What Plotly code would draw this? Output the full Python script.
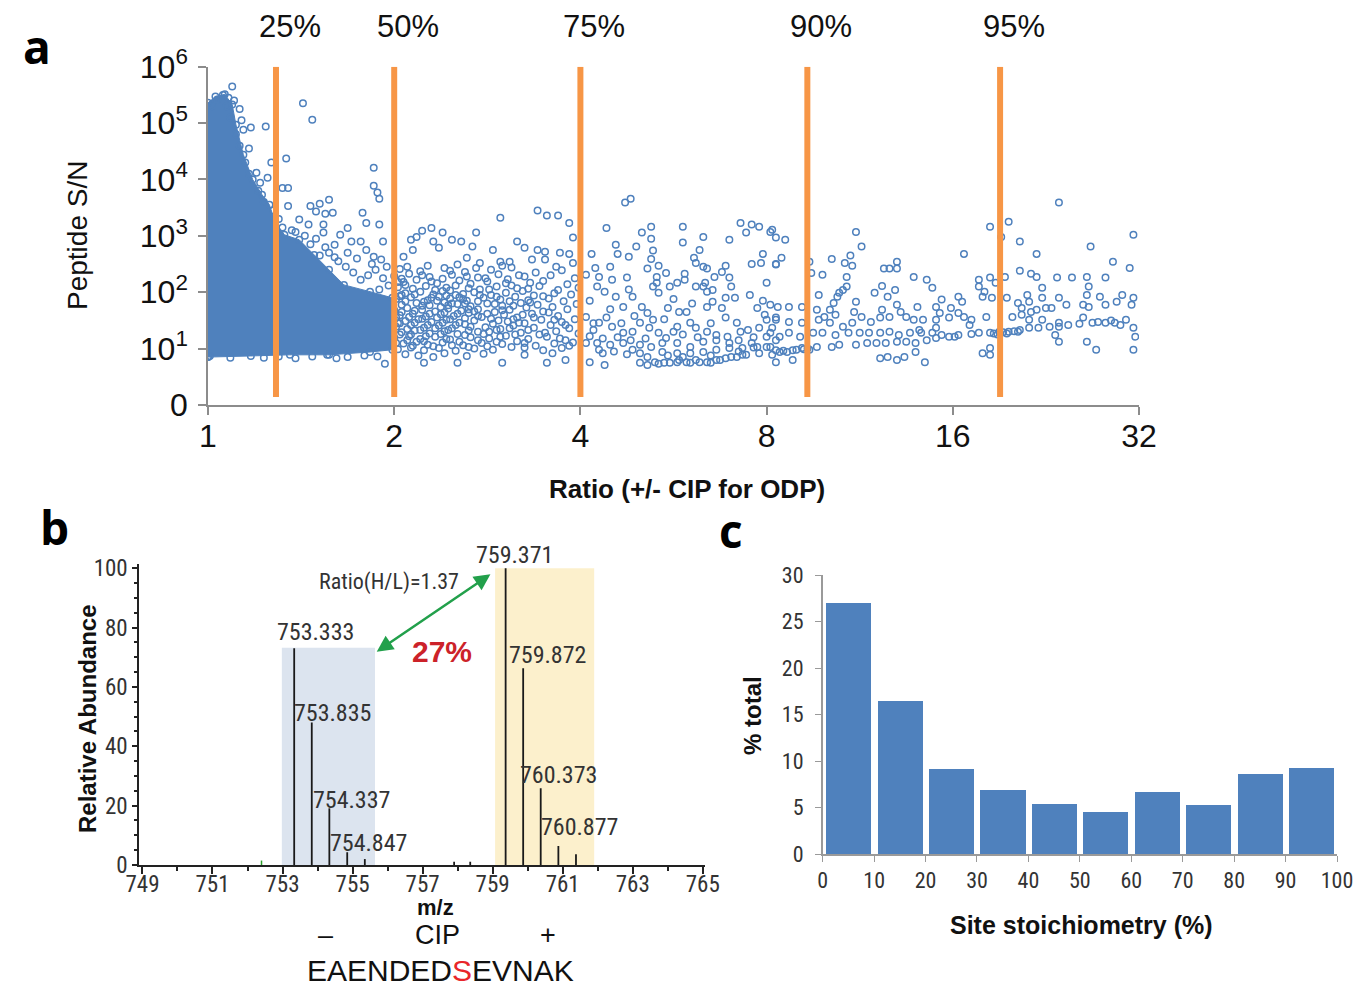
import numpy as np
import plotly.graph_objects as go

# page is photographed with the browser's default 8px body margin
OFF = 8
W, H = 1370 - OFF, 987 - OFF

# ===================== Panel a : peptide S/N vs ratio =====================
# values stored as (log2 ratio, log10 S/N)
dense_region = [
    (0.00, 0.85), (0.00, 5.36), (0.04, 5.47), (0.09, 5.51), (0.13, 5.33), (0.15, 4.97),
    (0.19, 4.44), (0.24, 4.00), (0.29, 3.73), (0.33, 3.55), (0.36, 3.25), (0.41, 3.02),
    (0.49, 2.93), (0.57, 2.66), (0.65, 2.40), (0.73, 2.13), (0.87, 2.01), (0.99, 1.90),
    (0.99, 0.98), (0.87, 0.94), (0.65, 0.89), (0.44, 0.89), (0.23, 0.87), (0.00, 0.85),
]

pts_1_2 = [
    (0.13, 5.65), (0.31, 4.94), (0.23, 4.92), (0.19, 4.88), (0.51, 5.35), (0.56, 5.06),
    (0.42, 4.37), (0.34, 4.30), (0.22, 4.55), (0.26, 4.12), (0.32, 4.03), (0.28, 3.94),
    (0.40, 3.85), (0.43, 3.85), (0.55, 3.53), (0.60, 3.57), (0.65, 3.64), (0.67, 3.41),
    (0.63, 3.39), (0.58, 3.43), (0.43, 3.53), (0.83, 3.41), (0.85, 3.23), (0.89, 4.21),
    (0.89, 3.89), (0.91, 3.77), (0.92, 3.66), (0.92, 3.20), (0.94, 2.90), (0.49, 3.29),
    (0.54, 3.20), (0.47, 3.07), (0.62, 3.20), (0.62, 3.06), (0.75, 3.14), (0.71, 3.02),
    (0.77, 2.90), (0.82, 2.90), (0.85, 2.75), (0.89, 2.63), (0.68, 2.84), (0.65, 2.70),
    (0.93, 2.58), (0.96, 2.45), (0.69, 0.83), (0.95, 0.73), (0.75, 0.85), (0.64, 0.89),
    (0.01, 0.87), (0.70, 2.55), (0.74, 2.45), (0.78, 2.35), (0.82, 2.22), (0.86, 2.30),
    (0.90, 2.40), (0.94, 2.25), (0.97, 2.12), (0.80, 2.60), (0.75, 2.70), (0.88, 2.50),
    (0.92, 2.05), (0.60, 2.65), (0.63, 2.80), (0.55, 2.85), (0.52, 3.00), (0.58, 2.95),
    (0.68, 2.62), (0.45, 3.10), (0.40, 3.15), (0.38, 3.30), (0.35, 3.45), (0.30, 3.60),
    (0.27, 3.80), (0.22, 4.10), (0.20, 4.30), (0.17, 4.60), (0.15, 4.80), (0.12, 5.10),
    (0.10, 5.30), (0.02, 5.30), (0.05, 5.42), (0.08, 5.50), (0.11, 5.45), (0.14, 5.40),
    (0.17, 5.25), (0.18, 5.05), (0.30, 0.84), (0.47, 0.83), (0.56, 0.86), (0.84, 0.88),
    (0.91, 0.86), (0.12, 0.84), (0.38, 0.86),
]

pts_2_4 = [
    (1.57, 3.32), (1.77, 3.45), (1.82, 3.36), (1.88, 3.36), (1.94, 3.23), (1.96, 2.97),
    (1.94, 2.68), (1.44, 3.06), (1.26, 3.06), (1.20, 3.14), (1.15, 3.09), (1.09, 2.93),
    (1.12, 2.98), (1.36, 2.90), (1.42, 2.81), (1.53, 2.75), (1.66, 2.90), (1.70, 2.79),
    (1.77, 2.75), (1.81, 2.72), (1.89, 2.70), (1.21, 2.90), (1.31, 2.93), (1.24, 2.79),
    (1.05, 2.63), (1.10, 2.75), (1.62, 2.54), (1.57, 2.54), (1.46, 2.52), (1.39, 2.61),
    (1.34, 2.49), (1.74, 2.58), (1.81, 2.58), (1.87, 2.45), (1.96, 2.52),
    (1.16, 0.75), (1.34, 0.75), (1.58, 0.75), (1.82, 0.75), (1.92, 0.80), (1.21, 0.85),
    (1.03, 2.41), (1.14, 2.37), (1.27, 2.43), (1.38, 2.36), (1.52, 2.40), (1.63, 2.44),
    (1.76, 2.35), (1.90, 2.39), (1.00, 2.29), (1.08, 2.33), (1.19, 2.27), (1.31, 2.31),
    (1.45, 2.26), (1.56, 2.32), (1.70, 2.28), (1.84, 2.30), (1.97, 2.25), (1.05, 2.18),
    (1.12, 2.22), (1.23, 2.16), (1.35, 2.21), (1.41, 2.15), (1.50, 2.19), (1.61, 2.23),
    (1.73, 2.17), (1.80, 2.20), (1.93, 2.14), (1.02, 2.09), (1.10, 2.06), (1.17, 2.11),
    (1.28, 2.08), (1.33, 2.12), (1.46, 2.05), (1.55, 2.10), (1.66, 2.07), (1.78, 2.11),
    (1.88, 2.04), (1.99, 2.08), (1.06, 1.98), (1.14, 2.01), (1.21, 1.96), (1.26, 2.02),
    (1.37, 1.97), (1.43, 2.00), (1.52, 1.95), (1.60, 1.99), (1.69, 2.02), (1.75, 1.94),
    (1.86, 1.98), (1.95, 1.96), (1.01, 1.88), (1.09, 1.91), (1.18, 1.86), (1.24, 1.92),
    (1.30, 1.89), (1.39, 1.85), (1.48, 1.90), (1.57, 1.87), (1.65, 1.92), (1.72, 1.86),
    (1.83, 1.89), (1.91, 1.84), (1.04, 1.78), (1.12, 1.81), (1.19, 1.77), (1.27, 1.82),
    (1.34, 1.79), (1.41, 1.75), (1.50, 1.80), (1.58, 1.76), (1.68, 1.81), (1.77, 1.78),
    (1.85, 1.74), (1.98, 1.79), (1.00, 1.68), (1.07, 1.72), (1.15, 1.69), (1.22, 1.66),
    (1.29, 1.71), (1.36, 1.67), (1.45, 1.70), (1.54, 1.65), (1.62, 1.69), (1.71, 1.73),
    (1.80, 1.66), (1.93, 1.70), (1.03, 1.59), (1.10, 1.62), (1.17, 1.57), (1.25, 1.61),
    (1.32, 1.58), (1.40, 1.63), (1.47, 1.56), (1.59, 1.60), (1.66, 1.55), (1.74, 1.62),
    (1.88, 1.58), (1.06, 1.49), (1.13, 1.52), (1.20, 1.47), (1.28, 1.51), (1.35, 1.46),
    (1.43, 1.50), (1.52, 1.53), (1.61, 1.48), (1.70, 1.45), (1.79, 1.51), (1.90, 1.47),
    (1.97, 1.52), (1.01, 1.39), (1.09, 1.42), (1.16, 1.37), (1.24, 1.41), (1.31, 1.36),
    (1.38, 1.43), (1.49, 1.38), (1.57, 1.35), (1.64, 1.41), (1.75, 1.37), (1.84, 1.42),
    (1.94, 1.36), (1.04, 1.29), (1.11, 1.32), (1.19, 1.27), (1.27, 1.31), (1.34, 1.26),
    (1.45, 1.30), (1.55, 1.33), (1.68, 1.28), (1.78, 1.25), (1.87, 1.31), (1.99, 1.27),
    (1.00, 1.19), (1.08, 1.22), (1.14, 1.17), (1.22, 1.21), (1.30, 1.16), (1.41, 1.20),
    (1.51, 1.18), (1.60, 1.23), (1.72, 1.17), (1.82, 1.21), (1.92, 1.15), (1.05, 1.09),
    (1.12, 1.12), (1.18, 1.07), (1.26, 1.11), (1.37, 1.06), (1.47, 1.10), (1.58, 1.08),
    (1.66, 1.13), (1.76, 1.05), (1.86, 1.09), (1.96, 1.11), (1.02, 0.99), (1.09, 1.02),
    (1.16, 0.97), (1.24, 1.01), (1.33, 0.96), (1.43, 1.00), (1.53, 0.98), (1.63, 1.03),
    (1.80, 0.97), (1.90, 1.01), (1.06, 0.90), (1.13, 0.88), (1.27, 0.92), (1.39, 0.87),
    (1.48, 0.91), (1.70, 0.89), (1.85, 0.92), (1.16, 1.83), (1.20, 1.90), (1.25, 1.74),
    (1.31, 1.80), (1.37, 1.88), (1.40, 1.70), (1.33, 1.95), (1.22, 2.04), (1.01, 1.55),
    (1.02, 1.45), (1.03, 1.25), (1.01, 1.10), (1.04, 1.95), (1.02, 2.18),
]

pts_2_4_more = [
    (1.07, 2.45), (1.18, 2.47), (1.30, 2.38), (1.44, 2.43), (1.58, 2.47),
    (1.04, 2.24), (1.15, 2.30), (1.26, 2.24), (1.39, 2.28), (1.49, 2.25), (1.60, 2.16), (1.67, 2.30),
    (1.06, 2.13), (1.20, 2.19), (1.30, 2.03), (1.40, 2.07), (1.51, 2.05), (1.63, 2.12), (1.72, 2.06),
    (1.03, 1.93), (1.11, 1.96), (1.28, 1.94), (1.35, 1.91), (1.46, 1.95), (1.55, 1.92), (1.62, 1.84),
    (1.80, 1.93), (1.06, 1.84), (1.15, 1.76), (1.23, 1.85), (1.29, 1.77), (1.38, 1.80), (1.45, 1.84),
    (1.54, 1.79), (1.64, 1.76), (1.73, 1.82), (1.04, 1.65), (1.11, 1.67), (1.19, 1.62), (1.27, 1.64),
    (1.34, 1.62), (1.43, 1.66), (1.50, 1.62), (1.58, 1.68), (1.69, 1.60), (1.83, 1.64), (1.08, 1.56),
    (1.15, 1.53), (1.23, 1.55), (1.30, 1.52), (1.38, 1.54), (1.45, 1.58), (1.56, 1.50), (1.64, 1.52),
    (1.75, 1.55), (1.03, 1.45), (1.11, 1.46), (1.18, 1.42), (1.26, 1.46), (1.33, 1.42), (1.41, 1.39),
    (1.53, 1.44), (1.67, 1.46), (1.86, 1.51), (1.07, 1.35), (1.14, 1.33), (1.22, 1.36), (1.29, 1.33),
    (1.40, 1.32), (1.51, 1.30), (1.62, 1.36), (1.72, 1.33), (1.92, 1.42), (1.09, 1.25), (1.17, 1.22),
    (1.25, 1.26), (1.38, 1.24), (1.48, 1.26), (1.57, 1.21), (1.65, 1.25), (1.81, 1.28), (1.07, 1.15),
    (1.16, 1.13), (1.28, 1.17), (1.35, 1.12), (1.45, 1.15), (1.55, 1.12), (1.70, 1.10), (1.89, 1.18),
    (1.10, 1.05), (1.21, 1.04), (1.31, 1.06), (1.40, 1.03), (1.50, 1.04), (1.70, 1.02), (1.94, 1.05),
]

pts_4_8 = [
    (2.24, 3.59), (2.27, 3.66), (2.14, 3.14), (2.38, 3.16), (2.33, 3.06), (2.55, 3.16),
    (2.86, 3.23), (2.92, 3.20), (2.96, 3.16), (2.89, 3.06), (2.38, 2.95), (2.55, 2.88),
    (2.66, 2.98), (2.80, 2.93), (2.19, 2.84), (2.20, 2.68), (2.30, 2.81), (2.39, 2.74),
    (2.64, 2.75), (2.06, 2.68), (2.26, 2.63), (2.38, 2.59), (2.61, 2.61), (2.62, 2.52),
    (2.66, 2.45), (2.68, 2.42), (2.98, 2.68), (2.97, 2.52), (2.92, 2.50), (2.78, 2.47),
    (2.76, 2.36), (2.80, 2.26), (2.42, 2.47), (2.36, 2.42), (2.46, 2.34), (2.41, 2.27),
    (2.16, 2.45), (2.08, 2.43), (2.03, 2.31), (2.10, 2.27), (2.17, 2.22), (2.25, 2.26),
    (2.56, 2.33), (2.56, 2.22), (2.52, 2.17), (2.48, 2.10), (2.72, 2.27), (2.71, 2.04),
    (2.68, 2.01), (2.39, 2.10), (2.41, 2.17), (2.42, 1.99), (2.62, 2.10), (2.66, 2.10),
    (2.67, 2.17), (2.81, 2.10), (2.83, 1.90), (2.78, 1.90), (2.09, 2.10), (2.13, 2.01),
    (2.19, 1.92), (2.28, 1.92), (2.23, 1.74), (2.47, 1.72), (2.53, 1.65), (2.57, 1.65),
    (2.33, 1.74), (2.36, 1.63), (2.39, 1.51), (2.32, 1.46), (2.71, 1.83), (2.68, 1.74),
    (2.76, 1.72), (2.95, 1.72), (2.99, 1.60), (2.03, 1.56), (2.10, 1.46), (2.07, 1.33),
    (2.17, 1.39), (2.23, 1.28), (2.28, 1.30), (2.37, 1.37), (2.42, 1.28), (2.52, 1.39),
    (2.59, 1.46), (2.62, 1.37), (2.78, 1.55), (2.84, 1.46), (2.90, 1.33), (2.96, 1.37),
    (2.68, 1.30), (2.73, 1.24), (2.79, 1.21), (2.85, 1.15), (2.03, 1.10), (2.09, 1.10),
    (2.16, 1.07), (2.12, 0.92), (2.05, 0.76), (2.13, 0.71), (2.23, 1.10), (2.28, 0.98),
    (2.32, 0.92), (2.36, 0.85), (2.40, 0.76), (2.45, 0.75), (2.52, 0.76), (2.57, 0.76),
    (2.62, 0.80), (2.68, 0.76), (2.73, 0.80), (2.78, 0.83), (2.84, 0.85), (2.89, 0.89),
    (2.96, 0.92), (2.32, 0.75), (2.36, 0.71), (2.42, 0.73), (2.48, 0.75), (2.53, 0.80),
    (2.59, 0.75), (2.64, 0.76), (2.70, 0.75), (2.75, 0.80), (2.81, 0.85), (2.87, 0.89),
    (2.44, 1.10), (2.52, 1.10), (2.59, 1.03), (2.66, 1.12), (2.73, 1.15), (2.80, 1.10),
    (2.92, 1.10), (2.32, 1.07), (2.38, 1.03), (2.44, 0.94), (2.52, 0.92), (2.59, 0.92),
    (2.66, 0.94), (2.73, 0.98), (2.80, 1.01), (2.87, 1.01), (2.95, 1.03),
    (2.05, 1.22), (2.12, 1.18), (2.20, 1.20), (2.27, 1.15), (2.35, 1.18), (2.46, 1.19),
    (2.55, 1.25), (2.63, 1.20), (2.07, 1.45), (2.14, 1.55), (2.22, 1.45), (2.29, 1.58),
    (2.45, 1.52), (2.50, 1.30), (2.70, 1.45), (2.86, 1.30), (2.93, 1.20), (2.05, 1.85),
    (2.16, 1.70), (2.26, 2.05), (2.50, 1.88), (2.60, 1.80), (2.91, 1.95), (2.98, 1.85),
    (2.10, 0.98), (2.18, 0.95), (2.25, 0.90), (2.47, 0.88), (2.55, 0.85), (2.70, 0.88),
    (2.85, 0.95), (2.93, 1.02),
]

pts_8_16 = [
    (3.02, 3.07), (3.05, 2.97), (3.03, 3.11), (3.10, 2.93), (3.08, 2.61), (3.05, 2.49),
    (3.48, 3.07), (3.51, 2.81), (3.35, 2.59), (3.42, 2.52), (3.45, 2.65), (3.46, 2.47),
    (3.23, 2.54), (3.24, 2.34), (3.30, 2.31), (3.43, 2.27), (3.43, 2.10), (3.41, 2.04),
    (3.63, 2.42), (3.66, 2.42), (3.70, 2.54), (3.70, 2.42), (3.79, 2.27), (3.86, 2.22),
    (3.89, 2.08), (4.06, 2.68), (3.62, 2.11), (3.69, 2.04), (3.58, 1.99), (3.65, 1.92),
    (3.28, 1.95), (3.38, 1.92), (3.39, 1.99), (3.48, 1.83), (3.47, 1.65), (4.03, 1.92),
    (4.05, 1.83), (3.94, 1.87), (3.99, 1.72), (3.00, 2.17), (3.05, 1.55), (3.00, 1.51),
    (3.03, 1.37), (3.00, 1.21), (3.05, 1.15), (3.00, 1.03), (3.03, 0.89), (3.05, 2.50),
    (3.06, 1.74), (3.12, 1.74), (3.02, 1.78), (3.19, 1.74), (3.27, 1.69), (3.36, 1.81),
    (3.34, 1.69), (3.37, 1.60), (3.31, 1.56), (3.62, 1.69), (3.70, 1.78), (3.72, 1.65),
    (3.81, 1.74), (3.91, 1.74), (3.93, 1.63), (3.51, 1.56), (3.56, 1.47), (3.61, 1.55),
    (3.66, 1.56), (3.75, 1.56), (3.84, 1.51), (3.91, 1.51), (3.98, 1.55), (3.05, 1.51),
    (3.12, 1.47), (3.19, 1.46), (3.28, 1.51), (3.34, 1.46), (3.41, 1.39), (3.46, 1.46),
    (3.02, 1.28), (3.07, 1.21), (3.12, 1.28), (3.18, 1.21), (3.25, 1.28), (3.30, 1.28),
    (3.37, 1.24), (3.44, 1.28), (3.50, 1.28), (3.55, 1.28), (3.61, 1.28), (3.66, 1.30),
    (3.71, 1.24), (3.77, 1.28), (3.83, 1.28), (3.89, 1.28), (3.94, 1.24), (4.01, 1.21),
    (3.02, 1.03), (3.07, 0.94), (3.11, 0.94), (3.16, 0.98), (3.19, 1.01), (3.23, 0.98),
    (3.27, 1.03), (3.35, 1.03), (3.39, 1.07), (3.48, 1.07), (3.54, 1.10), (3.59, 1.10),
    (3.64, 1.10), (3.70, 1.12), (3.75, 1.12), (3.80, 1.10), (3.86, 1.15), (3.91, 1.19),
    (3.98, 1.21), (3.05, 0.76), (3.14, 0.80), (3.61, 0.83), (3.65, 0.85), (3.70, 0.80),
    (3.74, 0.85), (3.80, 0.94), (3.85, 0.76), (3.82, 1.33), (3.91, 1.37), (3.79, 1.51),
    (3.05, 0.97), (3.09, 0.96), (3.14, 0.97), (3.20, 0.99), (3.22, 1.00),
]

pts_16_32 = [
    (4.57, 3.59), (4.20, 3.16), (4.30, 3.25), (4.26, 2.98), (4.36, 2.90), (4.45, 2.68),
    (4.97, 3.02), (4.74, 2.81), (4.86, 2.54), (4.95, 2.43), (4.36, 2.38), (4.42, 2.33),
    (4.45, 2.27), (4.56, 2.26), (4.64, 2.26), (4.72, 2.27), (4.82, 2.26), (4.14, 2.22),
    (4.20, 2.26), (4.28, 2.27), (4.23, 2.17), (4.14, 2.10), (4.48, 2.08), (4.73, 2.10),
    (4.17, 2.01), (4.21, 1.90), (4.29, 1.90), (4.16, 1.92), (4.40, 1.95), (4.41, 1.83),
    (4.48, 1.90), (4.57, 1.90), (4.61, 1.78), (4.72, 1.95), (4.79, 1.92), (4.88, 1.83),
    (4.91, 1.95), (4.97, 1.90), (4.35, 1.81), (4.37, 1.72), (4.37, 1.60), (4.42, 1.65),
    (4.45, 1.69), (4.50, 1.72), (4.53, 1.72), (4.70, 1.78), (4.73, 1.74), (4.82, 1.78),
    (4.96, 1.78), (4.03, 1.63), (4.06, 1.56), (4.10, 1.51), (4.09, 1.42), (4.18, 1.56),
    (4.32, 1.56), (4.41, 1.51), (4.48, 1.51), (4.57, 1.46), (4.70, 1.55), (4.75, 1.46),
    (4.82, 1.46), (4.87, 1.46), (4.93, 1.51), (4.97, 1.37), (4.03, 1.24), (4.10, 1.26),
    (4.14, 1.28), (4.20, 1.28), (4.25, 1.30), (4.30, 1.30), (4.36, 1.33), (4.41, 1.37),
    (4.46, 1.37), (4.52, 1.39), (4.57, 1.39), (4.62, 1.42), (4.68, 1.44), (4.55, 1.24),
    (4.57, 1.12), (4.72, 1.12), (4.77, 0.98), (4.97, 0.98), (4.98, 1.21), (4.16, 0.92),
    (4.20, 0.89), (4.20, 1.01), (4.22, 1.27), (4.27, 1.29), (4.33, 1.31), (4.24, 1.25),
    (4.29, 1.27), (4.35, 1.30), (4.78, 1.47), (4.85, 1.50), (4.90, 1.42),
]

threshold_ratio = [1.288, 2.0, 4.0, 9.31, 19.08]
threshold_label = ["25%", "50%", "75%", "90%", "95%"]
threshold_span = [1.38, 1.0e6]
ratio_ticks = [1, 2, 4, 8, 16, 32]
sn_ticks = [1, 10, 100, 1e3, 1e4, 1e5, 1e6]
sn_ticktext = ["0", "10<sup>1</sup>", "10<sup>2</sup>", "10<sup>3</sup>",
               "10<sup>4</sup>", "10<sup>5</sup>", "10<sup>6</sup>"]

# ===================== Panel b : MS spectrum =====================
peak_mz = [753.333, 753.835, 754.337, 754.847, 755.35, 757.90, 758.36,
           759.371, 759.872, 760.373, 760.877, 761.38]
peak_abund = [73.0, 48.0, 19.1, 4.3, 2.0, 1.1, 1.1, 100.0, 66.3, 25.9, 6.4, 3.6]
noise_mz = [752.40]
noise_abund = [1.5]
label_mz = [753.333, 753.835, 754.337, 754.847, 759.371, 759.872, 760.373, 760.877]
label_abund = [73.0, 48.0, 19.1, 4.3, 100.0, 66.3, 25.9, 6.4]
light_window = [752.98, 755.64]
light_top = 73.2
heavy_window = [759.07, 761.90]
heavy_top = 100.0
ratio_text = "Ratio(H/L)=1.37"
ratio_text_pos = (756.04, 95.4)
stoich_text = "27%"
stoich_text_pos = (757.55, 71.9)
arrow_tail = (758.98, 98.3)
arrow_head = (755.69, 71.9)

# ===================== Panel c : stoichiometry histogram =====================
stoich_bin_center = [5, 15, 25, 35, 45, 55, 65, 75, 85, 95]
pct_total = [27.0, 16.5, 9.2, 6.9, 5.4, 4.5, 6.7, 5.3, 8.6, 9.3]

# ---------------------------------------------------------------------------
BLUE = "#4F81BD"
ORANGE = "#F79646"
NARROW = "Liberation Sans Narrow, Arial Narrow, Roboto Condensed, Liberation Sans, Arial"
ARIAL = "Liberation Sans, Arial"


def px(xp):
    return (xp - OFF) / W


def py(yp):
    return 1 - (yp - OFF) / H


def unpack(pairs):
    u = np.array([p[0] for p in pairs])
    v = np.array([p[1] for p in pairs])
    return 2.0 ** u, 10.0 ** v


fig = go.Figure()
ring = dict(symbol="circle-open", size=6.5, color=BLUE, line=dict(width=1.5, color=BLUE))

# dense cloud near ratio 1
dx, dy = unpack(dense_region)
fig.add_trace(go.Scatter(x=dx, y=dy, mode="lines+markers", fill="toself",
                         fillcolor=BLUE, line=dict(color=BLUE, width=1), marker=ring,
                         xaxis="x", yaxis="y", hoverinfo="skip", showlegend=False))
for grp in [pts_1_2, pts_2_4, pts_2_4_more, pts_4_8, pts_8_16, pts_16_32]:
    gx, gy = unpack(grp)
    fig.add_trace(go.Scatter(x=gx, y=gy, mode="markers", marker=ring,
                             xaxis="x", yaxis="y", showlegend=False))

for t in threshold_ratio:
    fig.add_trace(go.Scatter(x=[t, t], y=threshold_span, mode="lines",
                             line=dict(color=ORANGE, width=6),
                             xaxis="x", yaxis="y", showlegend=False, hoverinfo="skip"))

# panel b shaded windows
fig.add_trace(go.Scatter(x=[light_window[0], light_window[1], light_window[1], light_window[0], light_window[0]],
                         y=[0, 0, light_top, light_top, 0], fill="toself", fillcolor="#DCE4EF",
                         line=dict(width=0), mode="lines", xaxis="x2", yaxis="y2",
                         showlegend=False, hoverinfo="skip"))
fig.add_trace(go.Scatter(x=[heavy_window[0], heavy_window[1], heavy_window[1], heavy_window[0], heavy_window[0]],
                         y=[0, 0, heavy_top, heavy_top, 0], fill="toself", fillcolor="#FCF0CC",
                         line=dict(width=0), mode="lines", xaxis="x2", yaxis="y2",
                         showlegend=False, hoverinfo="skip"))

sx, sy = [], []
for m, a in zip(peak_mz, peak_abund):
    sx += [m, m, None]
    sy += [0, a, None]
fig.add_trace(go.Scatter(x=sx, y=sy, mode="lines", line=dict(color="#1a1a1a", width=1.8),
                         xaxis="x2", yaxis="y2", showlegend=False, hoverinfo="skip"))
nx, ny = [], []
for m, a in zip(noise_mz, noise_abund):
    nx += [m, m, None]
    ny += [0, a, None]
fig.add_trace(go.Scatter(x=nx, y=ny, mode="lines", line=dict(color="#2ca02c", width=1.5),
                         xaxis="x2", yaxis="y2", showlegend=False, hoverinfo="skip"))

# panel c bars
fig.add_trace(go.Bar(x=stoich_bin_center, y=pct_total, width=8.8,
                     marker=dict(color=BLUE, line=dict(width=0)),
                     xaxis="x3", yaxis="y3", showlegend=False))

annotations = []


def note(text, xp, yp, size, family=ARIAL, color="#111", angle=0):
    annotations.append(dict(text=text, x=px(xp), y=py(yp), xref="paper", yref="paper",
                            showarrow=False, textangle=angle, xanchor="center", yanchor="middle",
                            font=dict(family=family, size=size, color=color)))


# panel letters
for letter, (xp, yp) in zip(["a", "b", "c"], [(37, 46), (54, 527), (731, 530)]):
    note("<b>%s</b>" % letter, xp, yp, 46, family="Open Sans, Liberation Sans", color="black")
# percent labels
for t, lab in zip(threshold_ratio, threshold_label):
    annotations.append(dict(text=lab, x=np.log10(t), y=py(27), xref="x", yref="paper", xshift=14,
                            showarrow=False, font=dict(family=ARIAL, size=31, color="#111"),
                            xanchor="center", yanchor="middle"))
note("Peptide S/N", 77, 236, 28, angle=-90)
note("<b>Ratio (+/- CIP for ODP)</b>", 687, 489, 26)
# panel b labels
label_dx = [21, 21, 22, 21, 9, 24, 18, 21]
label_dy = [16, 10, 8, 9, 13, 13, 13, 19]
for m, a, ddx, ddy in zip(label_mz, label_abund, label_dx, label_dy):
    annotations.append(dict(text="%.3f" % m, x=m, y=a, xref="x2", yref="y2", xshift=ddx, yshift=ddy,
                            showarrow=False, font=dict(family=NARROW, size=24, color="#333"),
                            xanchor="center", yanchor="middle"))
annotations.append(dict(text=ratio_text, x=ratio_text_pos[0], y=ratio_text_pos[1], xref="x2", yref="y2",
                        showarrow=False, xanchor="center", yanchor="middle",
                        font=dict(family=NARROW, size=22, color="#333")))
annotations.append(dict(text="<b>%s</b>" % stoich_text, x=stoich_text_pos[0], y=stoich_text_pos[1],
                        xref="x2", yref="y2", showarrow=False, xanchor="center", yanchor="middle",
                        font=dict(family=ARIAL, size=30, color="#CC2229")))
annotations.append(dict(text="", x=arrow_head[0], y=arrow_head[1], xref="x2", yref="y2",
                        ax=arrow_tail[0], ay=arrow_tail[1], axref="x2", ayref="y2",
                        showarrow=True, arrowhead=2, startarrowhead=2, arrowside="end+start",
                        arrowsize=1.3, startarrowsize=1.3, arrowwidth=2.5, arrowcolor="#22A04B"))
note("<b>Relative Abundance</b>", 87, 719, 24, angle=-90)
note("<b>m/z</b>", 435, 907, 22)
for txt, xp in [("\u2013", 325), ("CIP", 437), ("+", 548)]:
    note(txt, xp, 935, 27)
note("EAENDED<span style='color:#E8262A'>S</span>EVNAK", 440, 970, 30)
# panel c titles
note("<b>% total</b>", 752, 716, 24, angle=-90)
note("<b>Site stoichiometry (%)</b>", 1081, 925, 25)

common = dict(showgrid=False, zeroline=False, automargin=False, showline=True)

fig.update_layout(
    width=W, height=H, margin=dict(l=0, r=0, t=0, b=0, autoexpand=False),
    paper_bgcolor="white", plot_bgcolor="white", showlegend=False,
    bargap=0,
    annotations=annotations,
    xaxis=dict(type="log", range=[0, np.log10(32)], domain=[px(208), px(1139)], anchor="y",
               linecolor="#8c8c8c", linewidth=1.5, ticks="outside", ticklen=8,
               tickcolor="#8c8c8c", tickwidth=1.5, tickvals=ratio_ticks,
               ticktext=[str(t) for t in ratio_ticks], tickfont=dict(family=ARIAL, size=32, color="#111"),
               ticklabelstandoff=-6, **common),
    yaxis=dict(type="log", range=[0, 6], domain=[py(405), py(66.7)], anchor="x",
               linecolor="#8c8c8c", linewidth=1.5, ticks="outside", ticklen=8,
               tickcolor="#8c8c8c", tickwidth=1.5, tickvals=sn_ticks, ticktext=sn_ticktext,
               tickfont=dict(family=ARIAL, size=32, color="#111"), ticklabelstandoff=4, **common),
    xaxis2=dict(range=[748.91, 765.05], domain=[px(139.3), px(704.5)], anchor="y2",
                linecolor="#222", linewidth=2, ticks="outside", ticklen=7,
                tickcolor="#222", tickwidth=1.5, tick0=749, dtick=2,
                minor=dict(dtick=1, ticklen=4, ticks="outside", tickcolor="#222"),
                tickfont=dict(family=NARROW, size=23, color="#333"), ticklabelstandoff=-10, **common),
    yaxis2=dict(range=[0, 101.5], domain=[py(865), py(563.8)], anchor="x2",
                linecolor="#222", linewidth=2, ticks="outside", ticklen=5,
                tickcolor="#222", tickwidth=1.5, tick0=0, dtick=20,
                minor=dict(dtick=5, ticklen=3, ticks="outside", tickcolor="#222"),
                tickfont=dict(family=NARROW, size=23, color="#333"), ticklabelstandoff=0, **common),
    xaxis3=dict(range=[0, 100], domain=[px(822.7), px(1337)], anchor="y3",
                linecolor="#9a9a9a", linewidth=1.5, ticks="outside", ticklen=6,
                tickcolor="#9a9a9a", tick0=0, dtick=10,
                tickfont=dict(family=NARROW, size=22, color="#333"), **common),
    yaxis3=dict(range=[0, 30], domain=[py(854.3), py(575)], anchor="x3",
                linecolor="#9a9a9a", linewidth=1.5, ticks="outside", ticklen=6,
                tickcolor="#9a9a9a", tick0=0, dtick=5, ticklabelstandoff=7,
                tickfont=dict(family=NARROW, size=22, color="#333"), **common),
)

fig.write_html("out.html")
